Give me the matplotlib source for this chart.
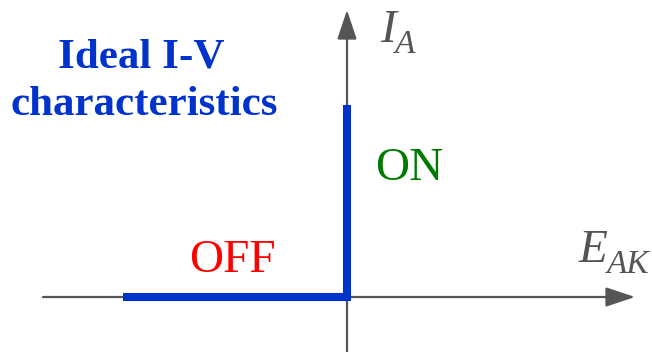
import matplotlib
matplotlib.use("Agg")
import matplotlib.pyplot as plt

# Ideal switch characteristic (arbitrary units, origin at the axis crossing)
off_v = [-224, 0]
off_i = [0, 0]
on_v = [0, 0]
on_i = [0, 192]

# Axis extents
v_axis = (-304, 288)
i_axis = (-60, 287)

fig = plt.figure(figsize=(6.52, 3.52), dpi=100)
ax = fig.add_axes([0, 0, 1, 1])
ax.set_xlim(-347, 305)
ax.set_ylim(-55, 297)
ax.axis("off")

axis_col = "#555555"
arrow = dict(arrowstyle="-|>,head_length=18,head_width=6", mutation_scale=1,
             lw=1.6, color=axis_col, shrinkA=0, shrinkB=0)
ax.annotate("", xy=(v_axis[1], 0), xytext=(v_axis[0], 0), arrowprops=arrow)
ax.annotate("", xy=(0, i_axis[1]), xytext=(0, i_axis[0]), arrowprops=arrow)

blue = "#0033cc"
ax.plot(off_v + on_v[1:], off_i + on_i[1:], color=blue, lw=5.8,
        solid_joinstyle="miter", solid_capstyle="butt", zorder=3)

serif = "Liberation Serif"
main_fs, sub_fs = 34, 24

# Axis labels: I_A and E_AK with lowered subscripts
ax.text(33, 255, "I", fontsize=main_fs, color=axis_col, family=serif,
        style="italic", ha="left", va="baseline")
ax.text(48, 244, "A", fontsize=sub_fs, color=axis_col, family=serif,
        style="italic", ha="left", va="baseline")
ax.text(232, 35, "E", fontsize=main_fs, color=axis_col, family=serif,
        style="italic", ha="left", va="baseline")
ax.text(260, 24, "AK", fontsize=sub_fs, color=axis_col, family=serif,
        style="italic", ha="left", va="baseline")

ax.text(62.5, 117, "ON", fontsize=main_fs, color="#007a00", family=serif,
        ha="center", va="baseline")
ax.text(-114.5, 25, "OFF", fontsize=main_fs, color="#ff0000", family=serif,
        ha="center", va="baseline")

ax.text(-206, 230, "Ideal I-V", fontsize=31, color=blue, family=serif,
        weight="bold", ha="center", va="baseline")
ax.text(-203, 182, "characteristics", fontsize=31, color=blue, family=serif,
        weight="bold", ha="center", va="baseline")

fig.savefig("out.png", dpi=100)
